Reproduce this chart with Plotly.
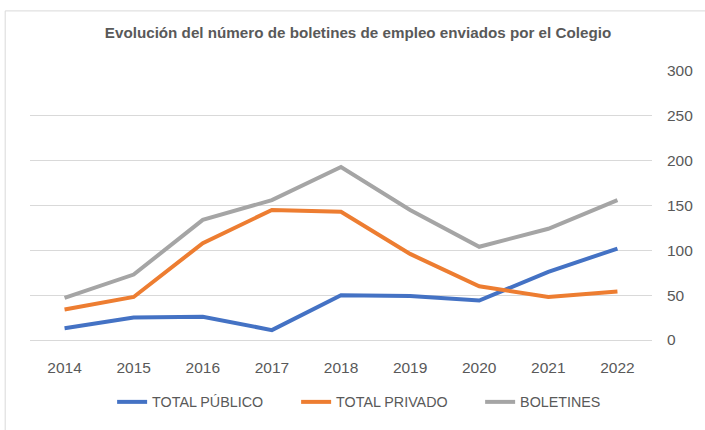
import plotly.graph_objects as go

years = ["2014", "2015", "2016", "2017", "2018", "2019", "2020", "2021", "2022"]
total_publico = [13, 25, 26, 11, 50, 49, 44, 76, 102]
total_privado = [34, 48, 108, 145, 143, 96, 60, 48, 54]
boletines = [47, 73, 134, 156, 193, 145, 104, 124, 156]
y_ticks = [0, 50, 100, 150, 200, 250, 300]

FONT = "Liberation Sans"
TXT = "#595959"

fig = go.Figure()
for name, vals, col in [
    ("TOTAL PÚBLICO", total_publico, "#4472C4"),
    ("TOTAL PRIVADO", total_privado, "#ED7D31"),
    ("BOLETINES", boletines, "#A5A5A5"),
]:
    fig.add_trace(go.Scatter(x=years, y=vals, mode="lines", name=name,
                             line=dict(color=col, width=4)))

fig.update_layout(
    width=705, height=430,
    margin=dict(l=30, r=48, t=71, b=86),
    paper_bgcolor="white", plot_bgcolor="white",
    font=dict(family=FONT, color=TXT, size=14),
    title=dict(text="<b>Evolución del número de boletines de empleo enviados por el Colegio</b>",
               x=358/705, xref="container", xanchor="center",
               y=1 - 33/430, yref="container", yanchor="middle",
               font=dict(family=FONT, size=15.2, color=TXT)),
    showlegend=True,
    legend=dict(orientation="h", x=(391-30)/627, xanchor="center",
                y=-(407-344)/273, yanchor="middle",
                font=dict(size=14.3, color=TXT), entrywidth=139,
                entrywidthmode="pixels", traceorder="normal"),
    xaxis=dict(type="category", range=[-0.5, 8.5], showgrid=False, zeroline=False,
               showline=False, ticks="", tickfont=dict(size=15.5, color=TXT),
               ticklabelstandoff=16),
    yaxis=dict(side="right", range=[0, 300], tickvals=y_ticks,
               showgrid=True, gridcolor="#D9D9D9", gridwidth=1,
               zeroline=True, zerolinecolor="#D9D9D9", zerolinewidth=1,
               showline=False, ticks="", ticklabelstandoff=14,
               tickfont=dict(size=15.5, color=TXT)),
)

fig.add_shape(type="rect", xref="paper", yref="paper",
              x0=-(30-5)/627, x1=1.2, y0=-0.5, y1=1 + (71-10)/273,
              line=dict(color="#D9D9D9", width=1), fillcolor="rgba(0,0,0,0)",
              layer="below")

fig.write_html("out.html")
